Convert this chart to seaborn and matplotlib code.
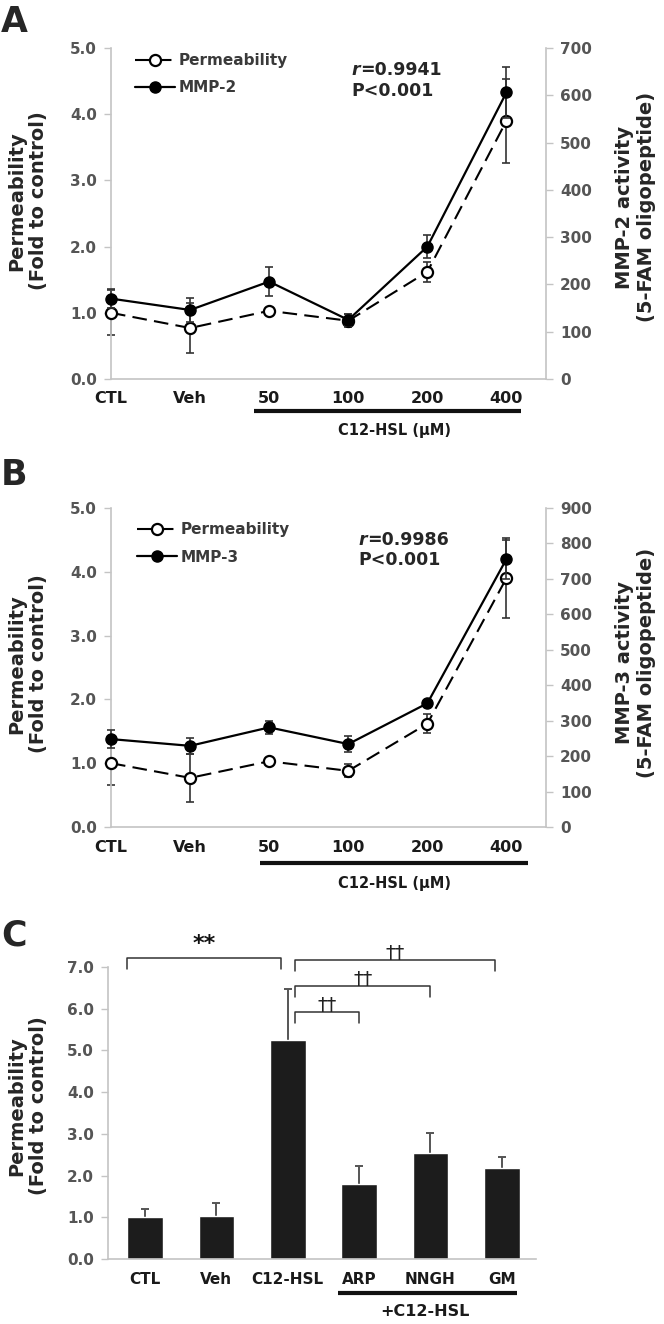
import numpy as np
import pandas as pd
import matplotlib
matplotlib.use("Agg")
import matplotlib.pyplot as plt
import matplotlib.transforms as mtransforms
from matplotlib.lines import Line2D
import seaborn as sns

# ---------------- data ----------------
dose_labels = ["CTL", "Veh", "50", "100", "200", "400"]
perm_mean = [1.00, 0.77, 1.03, 0.88, 1.62, 3.90]
perm_err = [0.34, 0.38, 0.05, 0.10, 0.15, 0.63]
mmp2_mean = [170, 146, 206, 125, 280, 606]
mmp2_err = [20, 25, 30, 12, 25, 54]
mmp3_mean = [248, 229, 281, 234, 349, 756]
mmp3_err = [25, 22, 18, 22, 10, 55]
bar_labels = ["CTL", "Veh", "C12-HSL", "ARP", "NNGH", "GM"]
bar_mean = [1.00, 1.04, 5.24, 1.80, 2.54, 2.17]
bar_err = [0.20, 0.30, 1.23, 0.44, 0.47, 0.28]

sns.set_theme(style="white")
plt.rcParams["font.family"] = ["DejaVu Sans"]
plt.rcParams["font.weight"] = "bold"

W, H = 664, 1324
fig = plt.figure(figsize=(W / 100, H / 100), dpi=100)

SPINE = "#c4c4c4"
TICKC = "#555555"
XLAB = "#1a1a1a"


def fx(px):
    return px / W


def fy(py):
    return 1 - py / H


def style_axis(ax, xsize=11.5):
    for s in ["top", "right"]:
        ax.spines[s].set_visible(False)
    for s in ["left", "bottom"]:
        ax.spines[s].set_color(SPINE)
        ax.spines[s].set_linewidth(1.2)
    ax.tick_params(axis="y", length=5, width=1.0, color=SPINE, labelcolor=TICKC,
                   labelsize=11, pad=5, direction="out", left=True)
    ax.tick_params(axis="x", length=0, labelcolor=XLAB, labelsize=xsize, pad=9)
    for lab in ax.get_yticklabels() + ax.get_xticklabels():
        lab.set_fontweight("bold")


def line_panel(rect, mmp_mean, mmp_err, mmp_name, rmax, rtxt, leg_anchor,
               r_pos, under, under_txt):
    ax = fig.add_axes(rect)
    ax2 = ax.twinx()
    x = np.arange(len(dose_labels))
    df = pd.DataFrame({"x": x, "perm": perm_mean, "mmp": mmp_mean})

    # permeability (left axis)
    ax.errorbar(x, perm_mean, yerr=perm_err, fmt="none", ecolor="#333333",
                elinewidth=1.2, capsize=3, capthick=1.2, zorder=2, clip_on=False)
    sns.lineplot(data=df, x="x", y="perm", ax=ax, color="black", lw=1.5,
                 marker="o", markersize=8, markerfacecolor="white",
                 markeredgecolor="black", markeredgewidth=1.6, zorder=3)
    ln = ax.lines[-1]
    ln.set_linestyle((0, (7, 3.5)))
    ln.set_clip_on(False)

    # MMP (right axis)
    ax2.errorbar(x, mmp_mean, yerr=mmp_err, fmt="none", ecolor="#333333",
                 elinewidth=1.2, capsize=3, capthick=1.2, zorder=2, clip_on=False)
    sns.lineplot(data=df, x="x", y="mmp", ax=ax2, color="black", lw=1.6,
                 marker="o", markersize=8, markerfacecolor="black",
                 markeredgecolor="black", markeredgewidth=1.0, zorder=3)
    ax2.lines[-1].set_clip_on(False)

    ax.set_xlim(0, 5.5)
    ax.set_ylim(0, 5)
    ax.set_yticks(np.arange(0, 5.01, 1.0))
    ax.set_yticklabels([f"{v:.1f}" for v in np.arange(0, 5.01, 1.0)])
    ax.set_xticks(x)
    ax.set_xticklabels(dose_labels)
    ax.set_xlabel("")
    ax.set_ylabel("")
    style_axis(ax)

    ax2.set_ylim(0, rmax)
    ax2.set_yticks(np.arange(0, rmax + 1, 100))
    ax2.set_ylabel("")
    ax2.set_xlabel("")
    for s in ["top", "left", "bottom"]:
        ax2.spines[s].set_visible(False)
    ax2.spines["right"].set_color(SPINE)
    ax2.spines["right"].set_linewidth(1.2)
    ax2.tick_params(axis="y", length=5, width=1.0, color=SPINE, labelcolor=TICKC,
                    labelsize=11, pad=5, direction="out", right=True)
    for lab in ax2.get_yticklabels():
        lab.set_fontweight("bold")

    # legend
    h1 = Line2D([], [], color="black", lw=1.5, ls=(0, (7, 3.5)), marker="o", ms=8,
                mfc="white", mec="black", mew=1.6)
    h2 = Line2D([], [], color="black", lw=1.6, marker="o", ms=8, mfc="black",
                mec="black")
    leg = ax2.legend([h1, h2], ["Permeability", mmp_name], loc="upper left",
                     bbox_to_anchor=leg_anchor, frameon=False, handlelength=2.6,
                     handletextpad=0.25, labelspacing=0.8, borderaxespad=0,
                     borderpad=0, prop=dict(weight="bold", size=11))
    for t in leg.get_texts():
        t.set_color("#3a3a3a")

    # correlation text
    tr = mtransforms.blended_transform_factory(ax.transData, ax.transAxes)
    ax2.text(r_pos[0], r_pos[1], "r", transform=tr, fontsize=12.5, fontweight="bold",
             fontstyle="italic", ha="left", va="center")
    ax2.annotate("=" + rtxt, xy=(r_pos[0], r_pos[1]), xycoords=tr,
                 xytext=(6.2, 0), textcoords="offset points", fontsize=12.5,
                 fontweight="bold", ha="left", va="center")
    ax2.text(r_pos[0], r_pos[2], "P<0.001", transform=tr, fontsize=12.5,
             fontweight="bold", ha="left", va="center")

    # group underline
    ax.plot([under[0], under[1]], [under[2], under[2]], transform=tr, color="#111111",
            lw=3, clip_on=False, solid_capstyle="butt")
    ax.text(under_txt[0], under_txt[1], "C12-HSL (µM)", transform=tr, ha="center",
            va="center", fontsize=10.5, fontweight="bold", color=XLAB)
    return ax, ax2


# ---------- Panel A ----------
line_panel([fx(111), fy(379), fx(546) - fx(111), (379 - 48) / H],
           mmp2_mean, mmp2_err, "MMP-2", 700, "0.9941",
           (0.055, 0.985), (3.04, 0.934, 0.87),
           (1.81, 5.18, -0.096), (3.58, -0.157))
fig.text(fx(28), fy(201), "Permeability\n(Fold to control)", rotation=90,
         ha="center", va="center", fontsize=14, fontweight="bold")
fig.text(fx(636), fy(207), "MMP-2 activity\n(5-FAM oligopeptide)", rotation=90,
         ha="center", va="center", fontsize=14, fontweight="bold")
fig.text(fx(1), fy(32), "A", fontsize=25, fontweight="bold", ha="left", va="baseline")

# ---------- Panel B ----------
line_panel([fx(111), fy(827), fx(546) - fx(111), (827 - 508) / H],
           mmp3_mean, mmp3_err, "MMP-3", 900, "0.9986",
           (0.06, 0.955), (3.13, 0.90, 0.837),
           (1.89, 5.27, -0.113), (3.59, -0.176))
fig.text(fx(28), fy(664), "Permeability\n(Fold to control)", rotation=90,
         ha="center", va="center", fontsize=14, fontweight="bold")
fig.text(fx(636), fy(663), "MMP-3 activity\n(5-FAM oligopeptide)", rotation=90,
         ha="center", va="center", fontsize=14, fontweight="bold")
fig.text(fx(1), fy(485), "B", fontsize=25, fontweight="bold", ha="left", va="baseline")

# ---------- Panel C ----------
axC = fig.add_axes([fx(108), fy(1259), fx(536) - fx(108), (1259 - 967) / H])
dfc = pd.DataFrame({"group": bar_labels, "value": bar_mean})
sns.barplot(data=dfc, x="group", y="value", ax=axC, color="#1c1c1c", saturation=1,
            width=0.5, errorbar=None, order=bar_labels)
xc = np.arange(len(bar_labels))
eb = axC.errorbar(xc, bar_mean, yerr=[np.zeros(len(bar_err)), bar_err], fmt="none",
                  ecolor="#555555", elinewidth=1.4, capsize=3, capthick=1.4,
                  zorder=0.5)
# keep only the upper caps (one-sided error bars)
if len(eb[1]) == 2:
    eb[1][0].set_visible(False)
axC.set_xlim(-0.52, 5.48)
axC.set_ylim(0, 7)
axC.set_yticks(np.arange(0, 7.01, 1.0))
axC.set_yticklabels([f"{v:.1f}" for v in np.arange(0, 7.01, 1.0)])
axC.set_xlabel("")
axC.set_ylabel("")
style_axis(axC, xsize=11)

# significance brackets
brackets = [(-0.25, 1.9, 7.22, "**"), (2.1, 4.9, 7.17, "††"),
            (2.1, 4.0, 6.55, "††"), (2.1, 3.0, 5.92, "††")]
drop = 0.27
for x0, x1, yb, lab in brackets:
    axC.plot([x0, x0, x1, x1], [yb - drop, yb, yb, yb - drop], color="#333333",
             lw=1.1, clip_on=False)
    if lab == "**":
        axC.text((x0 + x1) / 2, yb + 0.08, lab, ha="center", va="bottom",
                 fontsize=16, fontweight="bold", color="#111111")
    else:
        axC.text((x0 + x1) / 2, yb + 0.02, lab, ha="center", va="baseline",
                 fontsize=14, fontweight="normal", color="#222222")

trC = mtransforms.blended_transform_factory(axC.transData, axC.transAxes)
axC.plot([2.70, 5.22], [-0.116, -0.116], transform=trC, color="#111111", lw=3,
         clip_on=False, solid_capstyle="butt")
axC.text(3.93, -0.18, "+C12-HSL", transform=trC, ha="center", va="center",
         fontsize=11.5, fontweight="bold", color=XLAB)
fig.text(fx(28), fy(1106), "Permeability\n(Fold to control)", rotation=90,
         ha="center", va="center", fontsize=14, fontweight="bold")
fig.text(fx(1), fy(945), "C", fontsize=25, fontweight="bold", ha="left", va="baseline")

fig.savefig("out.png", dpi=100)
